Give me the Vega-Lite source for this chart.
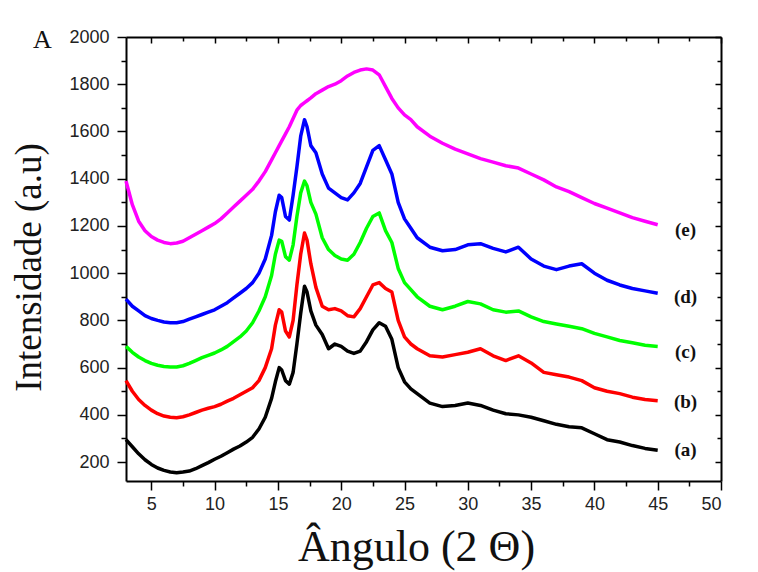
{
  "$schema": "https://vega.github.io/schema/vega-lite/v6.json",
  "autosize": "none",
  "width": 595,
  "height": 444,
  "padding": {"left": 126, "top": 37, "right": 37, "bottom": 91},
  "background": "white",
  "config": {"view": {"stroke": null}},
  "title": {"text": "A", "anchor": "start", "frame": "group", "dx": -93, "dy": 46, "offset": 0, "baseline": "alphabetic", "font": "Liberation Serif", "fontSize": 26, "fontWeight": "normal", "color": "#111"},
  "datasets": {
    "xrd": [
      {"x": 3, "a": 295, "b": 545, "c": 690, "d": 890, "e": 1390},
      {"x": 3.5, "a": 265, "b": 500, "c": 665, "d": 860, "e": 1290},
      {"x": 4, "a": 235, "b": 465, "c": 645, "d": 840, "e": 1220},
      {"x": 4.5, "a": 210, "b": 440, "c": 630, "d": 820, "e": 1180},
      {"x": 5, "a": 190, "b": 420, "c": 618, "d": 808, "e": 1155},
      {"x": 5.5, "a": 175, "b": 405, "c": 610, "d": 800, "e": 1140},
      {"x": 6, "a": 165, "b": 395, "c": 605, "d": 793, "e": 1130},
      {"x": 6.5, "a": 158, "b": 390, "c": 603, "d": 790, "e": 1125},
      {"x": 7, "a": 155, "b": 388, "c": 603, "d": 790, "e": 1128},
      {"x": 7.5, "a": 158, "b": 392, "c": 608, "d": 795, "e": 1135},
      {"x": 8, "a": 162, "b": 400, "c": 618, "d": 805, "e": 1150},
      {"x": 8.5, "a": 172, "b": 410, "c": 630, "d": 815, "e": 1165},
      {"x": 9, "a": 185, "b": 420, "c": 642, "d": 825, "e": 1180},
      {"x": 9.5, "a": 198, "b": 428, "c": 652, "d": 835, "e": 1195},
      {"x": 10, "a": 212, "b": 435, "c": 662, "d": 845, "e": 1210},
      {"x": 10.5, "a": 225, "b": 445, "c": 675, "d": 860, "e": 1230},
      {"x": 11, "a": 240, "b": 458, "c": 690, "d": 875, "e": 1255},
      {"x": 11.5, "a": 255, "b": 470, "c": 710, "d": 895, "e": 1280},
      {"x": 12, "a": 268, "b": 485, "c": 730, "d": 915, "e": 1305},
      {"x": 12.5, "a": 285, "b": 500, "c": 755, "d": 935, "e": 1330},
      {"x": 13, "a": 305, "b": 515, "c": 790, "d": 960, "e": 1355},
      {"x": 13.5, "a": 340, "b": 545, "c": 840, "d": 1000, "e": 1390},
      {"x": 14, "a": 390, "b": 600, "c": 900, "d": 1060, "e": 1430},
      {"x": 14.5, "a": 470, "b": 680, "c": 990, "d": 1160, "e": 1480},
      {"x": 14.8, "a": 540, "b": 780, "c": 1080, "d": 1260, "e": 1510},
      {"x": 15.1, "a": 600, "b": 845, "c": 1140, "d": 1330, "e": 1540},
      {"x": 15.3, "a": 590, "b": 835, "c": 1135, "d": 1320, "e": 1560},
      {"x": 15.6, "a": 545, "b": 755, "c": 1070, "d": 1240, "e": 1590},
      {"x": 15.9, "a": 530, "b": 730, "c": 1055, "d": 1225, "e": 1620},
      {"x": 16.2, "a": 580, "b": 800, "c": 1120, "d": 1330, "e": 1655},
      {"x": 16.5, "a": 700, "b": 950, "c": 1240, "d": 1450, "e": 1690},
      {"x": 16.8, "a": 830, "b": 1080, "c": 1340, "d": 1580, "e": 1710},
      {"x": 17.1, "a": 945, "b": 1170, "c": 1390, "d": 1650, "e": 1722},
      {"x": 17.3, "a": 920, "b": 1140, "c": 1370, "d": 1620, "e": 1730},
      {"x": 17.6, "a": 840, "b": 1040, "c": 1300, "d": 1540, "e": 1742},
      {"x": 18, "a": 780, "b": 940, "c": 1250, "d": 1510, "e": 1760},
      {"x": 18.5, "a": 740, "b": 860, "c": 1150, "d": 1420, "e": 1775},
      {"x": 19, "a": 680, "b": 845, "c": 1100, "d": 1360, "e": 1790},
      {"x": 19.5, "a": 700, "b": 850, "c": 1075, "d": 1340, "e": 1800},
      {"x": 20, "a": 690, "b": 840, "c": 1060, "d": 1320, "e": 1815},
      {"x": 20.5, "a": 670, "b": 820, "c": 1055, "d": 1310, "e": 1835},
      {"x": 21, "a": 660, "b": 815, "c": 1080, "d": 1340, "e": 1850},
      {"x": 21.5, "a": 670, "b": 850, "c": 1130, "d": 1380, "e": 1860},
      {"x": 22, "a": 710, "b": 900, "c": 1190, "d": 1450, "e": 1865},
      {"x": 22.5, "a": 760, "b": 950, "c": 1240, "d": 1520, "e": 1860},
      {"x": 23, "a": 790, "b": 960, "c": 1255, "d": 1540, "e": 1840},
      {"x": 23.5, "a": 775, "b": 935, "c": 1180, "d": 1480, "e": 1790},
      {"x": 24, "a": 720, "b": 920, "c": 1130, "d": 1420, "e": 1740},
      {"x": 24.5, "a": 600, "b": 800, "c": 1020, "d": 1300, "e": 1700},
      {"x": 25, "a": 540, "b": 730, "c": 960, "d": 1230, "e": 1670},
      {"x": 25.5, "a": 510, "b": 700, "c": 930, "d": 1190, "e": 1650},
      {"x": 26, "a": 490, "b": 680, "c": 900, "d": 1150, "e": 1620},
      {"x": 27, "a": 450, "b": 650, "c": 860, "d": 1110, "e": 1580},
      {"x": 28, "a": 435, "b": 645, "c": 845, "d": 1095, "e": 1550},
      {"x": 29, "a": 440, "b": 655, "c": 860, "d": 1100, "e": 1525},
      {"x": 30, "a": 450, "b": 665, "c": 880, "d": 1120, "e": 1505},
      {"x": 31, "a": 440, "b": 680, "c": 870, "d": 1125, "e": 1485},
      {"x": 32, "a": 420, "b": 650, "c": 845, "d": 1105, "e": 1470},
      {"x": 33, "a": 405, "b": 630, "c": 835, "d": 1090, "e": 1455},
      {"x": 34, "a": 400, "b": 650, "c": 840, "d": 1110, "e": 1445},
      {"x": 35, "a": 390, "b": 620, "c": 815, "d": 1060, "e": 1420},
      {"x": 36, "a": 375, "b": 580, "c": 795, "d": 1030, "e": 1395},
      {"x": 37, "a": 360, "b": 570, "c": 785, "d": 1015, "e": 1365},
      {"x": 38, "a": 350, "b": 560, "c": 775, "d": 1030, "e": 1345},
      {"x": 39, "a": 345, "b": 545, "c": 765, "d": 1040, "e": 1320},
      {"x": 40, "a": 320, "b": 515, "c": 745, "d": 1000, "e": 1295},
      {"x": 41, "a": 295, "b": 500, "c": 730, "d": 970, "e": 1275},
      {"x": 42, "a": 285, "b": 490, "c": 715, "d": 950, "e": 1255},
      {"x": 43, "a": 270, "b": 475, "c": 705, "d": 935, "e": 1235},
      {"x": 44, "a": 258, "b": 465, "c": 695, "d": 925, "e": 1220},
      {"x": 45, "a": 250, "b": 460, "c": 690, "d": 915, "e": 1205}
    ],
    "labels": [
      {"serie": "a", "texto": "(a)", "x": 47.2, "y": 251},
      {"serie": "b", "texto": "(b)", "x": 47.2, "y": 455},
      {"serie": "c", "texto": "(c)", "x": 47.2, "y": 667},
      {"serie": "d", "texto": "(d)", "x": 47.2, "y": 900},
      {"serie": "e", "texto": "(e)", "x": 47.2, "y": 1183}
    ]
  },
  "layer": [
    {
      "data": {"name": "xrd"},
      "transform": [{"fold": ["a", "b", "c", "d", "e"], "as": ["serie", "valor"]}],
      "mark": {"type": "line", "strokeWidth": 3.5, "strokeJoin": "round"},
      "encoding": {
        "x": {
          "field": "x", "type": "quantitative",
          "scale": {"domain": [3, 50], "nice": false, "zero": false},
          "axis": {
            "orient": "bottom",
            "title": "Ângulo (2 Θ)",
            "values": [5, 7.5, 10, 12.5, 15, 17.5, 20, 22.5, 25, 27.5, 30, 32.5, 35, 37.5, 40, 42.5, 45, 47.5, 50],
            "labelExpr": "datum.value % 5 === 0 ? format(datum.value, 'd') : ''",
            "grid": false,
            "domainColor": "#000", "domainWidth": 2,
            "tickColor": "#000", "tickWidth": 1.5,
            "tickSize": {"condition": {"test": "datum.value % 5 === 0", "value": 9}, "value": 5},
            "labelFont": "Liberation Sans", "labelFontSize": 18, "labelColor": "#222", "labelPadding": 5,
            "titleFont": "Liberation Serif", "titleFontSize": 44, "titleFontWeight": "normal", "titleColor": "#111", "titlePadding": 12, "titleX": 290
          }
        },
        "y": {
          "field": "valor", "type": "quantitative",
          "scale": {"domain": [120, 2000], "nice": false, "zero": false},
          "axis": {
            "orient": "left",
            "title": "Intensidade (a.u)",
            "values": [200, 300, 400, 500, 600, 700, 800, 900, 1000, 1100, 1200, 1300, 1400, 1500, 1600, 1700, 1800, 1900, 2000],
            "labelExpr": "datum.value % 200 === 0 ? format(datum.value, 'd') : ''",
            "grid": false,
            "domainColor": "#000", "domainWidth": 2,
            "tickColor": "#000", "tickWidth": 1.5,
            "tickSize": {"condition": {"test": "datum.value % 200 === 0", "value": 9}, "value": 5},
            "labelFont": "Liberation Sans", "labelFontSize": 18, "labelColor": "#222", "labelPadding": 8,
            "titleFont": "Liberation Serif", "titleFontSize": 37, "titleFontWeight": "normal", "titleColor": "#111", "titlePadding": 20, "titleY": 230
          }
        },
        "color": {
          "field": "serie", "type": "nominal",
          "scale": {"domain": ["a", "b", "c", "d", "e"], "range": ["#000000", "#ff0000", "#00ff00", "#0000ff", "#ff00ff"]},
          "legend": null
        }
      }
    },
    {
      "data": {"name": "labels"},
      "mark": {"type": "text", "font": "Liberation Serif", "fontWeight": "bold", "fontSize": 19, "align": "center", "baseline": "middle", "color": "#111"},
      "encoding": {
        "x": {
          "field": "x", "type": "quantitative",
          "scale": {"domain": [3, 50], "nice": false, "zero": false},
          "axis": {
            "orient": "top", "title": null, "labels": false, "grid": false,
            "values": [5, 7.5, 10, 12.5, 15, 17.5, 20, 22.5, 25, 27.5, 30, 32.5, 35, 37.5, 40, 42.5, 45, 47.5, 50],
            "domainColor": "#000", "domainWidth": 2,
            "tickColor": "#000", "tickWidth": 1.5,
            "tickSize": {"condition": {"test": "datum.value % 5 === 0", "value": -6}, "value": -4}
          }
        },
        "y": {
          "field": "y", "type": "quantitative",
          "scale": {"domain": [120, 2000], "nice": false, "zero": false},
          "axis": {
            "orient": "right", "title": null, "labels": false, "grid": false,
            "values": [200, 300, 400, 500, 600, 700, 800, 900, 1000, 1100, 1200, 1300, 1400, 1500, 1600, 1700, 1800, 1900, 2000],
            "domainColor": "#000", "domainWidth": 2,
            "tickColor": "#000", "tickWidth": 1.5,
            "tickSize": {"condition": {"test": "datum.value % 200 === 0", "value": -6}, "value": -4}
          }
        },
        "text": {"field": "texto", "type": "nominal"}
      }
    }
  ],
  "resolve": {"axis": {"x": "independent", "y": "independent"}}
}
